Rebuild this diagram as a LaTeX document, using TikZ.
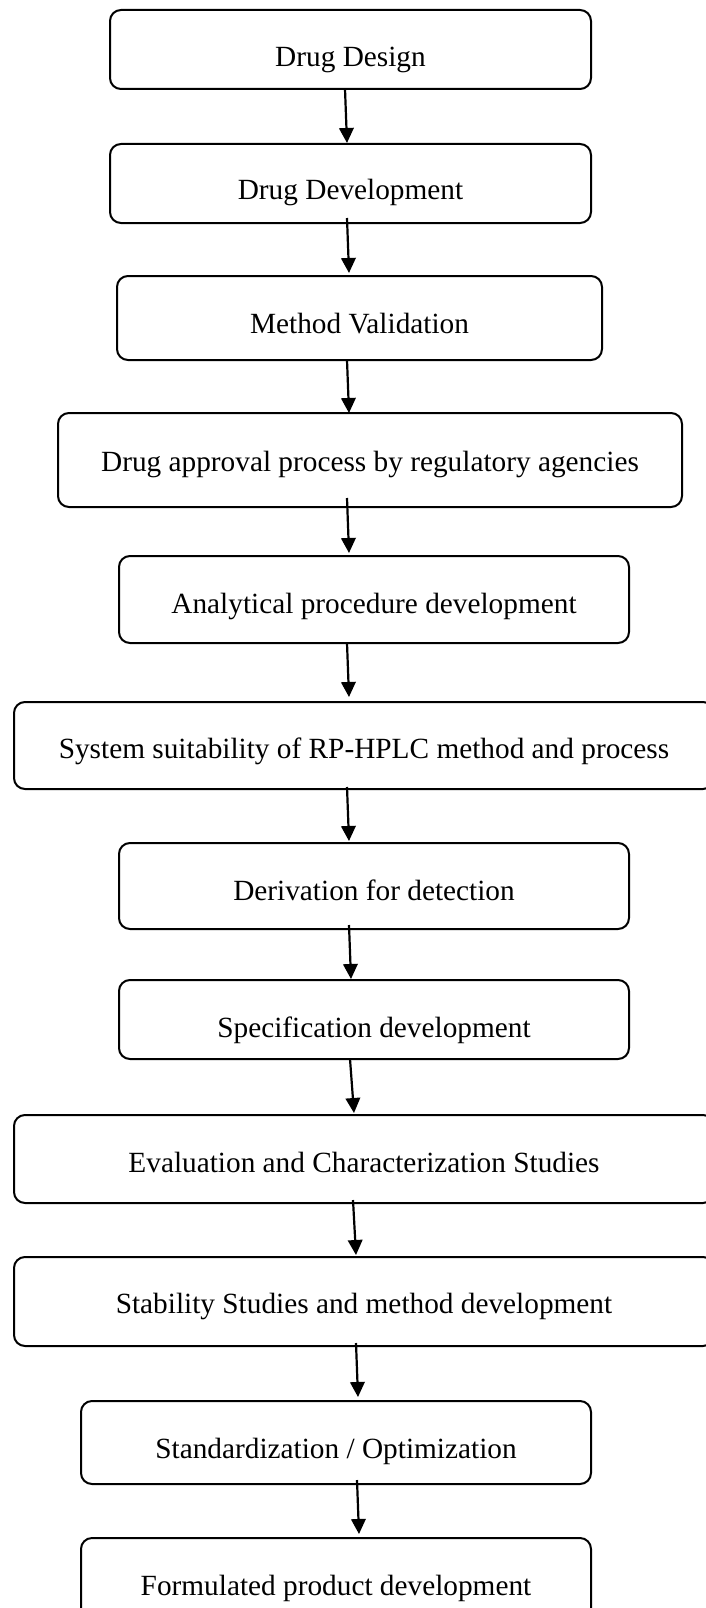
\documentclass[tikz,border=0pt]{standalone}
\usepackage{fontspec}
\setmainfont{Liberation Serif}
\usetikzlibrary{arrows.meta}
\tikzset{
  box/.style={draw=black, line width=2pt, rounded corners=11pt, fill=white, inner sep=0pt, outer sep=0pt},
  txt/.style={anchor=base, inner sep=0pt, font=\fontsize{29.3}{35}\selectfont},
  arr/.style={draw=black, line width=2.2pt, -{Triangle[length=15pt,width=14.5pt]}}
}
\begin{document}
\begin{tikzpicture}[x=1pt,y=-1pt]
\clip (0,0) rectangle (706,1608);
\fill[white] (0,0) rectangle (706,1608);
% boxes
\node[box, minimum width=481pt, minimum height=79pt] (b1) at (350.5,49.5) {};
\node[box, minimum width=481pt, minimum height=79pt] (b2) at (350.5,183.5) {};
\node[box, minimum width=485pt, minimum height=84pt] (b3) at (359.5,318) {};
\node[box, minimum width=624pt, minimum height=94pt] (b4) at (370,460) {};
\node[box, minimum width=510pt, minimum height=87pt] (b5) at (374,599.5) {};
\node[box, minimum width=700pt, minimum height=87pt] (b6) at (364,745.5) {};
\node[box, minimum width=510pt, minimum height=86pt] (b7) at (374,886) {};
\node[box, minimum width=510pt, minimum height=79pt] (b8) at (374,1019.5) {};
\node[box, minimum width=700pt, minimum height=88pt] (b9) at (364,1159) {};
\node[box, minimum width=700pt, minimum height=89pt] (b10) at (364,1301.5) {};
\node[box, minimum width=510pt, minimum height=83pt] (b11) at (336,1442.5) {};
\node[box, minimum width=510pt, minimum height=87pt] (b12) at (336,1581.5) {};
% texts
\node[txt] (t1) at (350.5,66.7) {Drug Design};
\node[txt] (t2) at (350.5,200) {Drug Development};
\node[txt] (t3) at (359.5,333) {Method Validation};
\node[txt] (t4) at (370,471) {Drug approval process by regulatory agencies};
\node[txt] (t5) at (374,613) {Analytical procedure development};
\node[txt] (t6) at (364,758) {System suitability of RP-HPLC method and process};
\node[txt] (t7) at (374,900) {Derivation for detection};
\node[txt] (t8) at (374,1037) {Specification development};
\node[txt] (t9) at (364,1172) {Evaluation and Characterization Studies};
\node[txt] (t10) at (364,1313) {Stability Studies and method development};
\node[txt] (t11) at (336,1458) {Standardization / Optimization};
\node[txt] (t12) at (336,1595) {Formulated product development};
% arrows
\draw[arr] ([xshift=-5.5pt]b1.south) -- ([xshift=-3.5pt,yshift=1pt]b2.north);
\draw[arr] ([xshift=-3.5pt,yshift=5pt]b2.south) -- ([xshift=-10.5pt,yshift=3pt]b3.north);
\draw[arr] ([xshift=-12.5pt]b3.south) -- ([xshift=-21pt]b4.north);
\draw[arr] ([xshift=-23pt,yshift=9pt]b4.south) -- ([xshift=-25pt,yshift=3pt]b5.north);
\draw[arr] ([xshift=-27pt]b5.south) -- ([xshift=-15pt,yshift=5pt]b6.north);
\draw[arr] ([xshift=-17pt,yshift=2pt]b6.south) -- ([xshift=-25pt,yshift=2pt]b7.north);
\draw[arr] ([xshift=-25pt,yshift=4pt]b7.south) -- ([xshift=-23pt,yshift=1pt]b8.north);
\draw[arr] ([xshift=-24pt]b8.south) -- ([xshift=-10pt,yshift=2pt]b9.north);
\draw[arr] ([xshift=-11pt,yshift=3pt]b9.south) -- ([xshift=-8pt,yshift=2pt]b10.north);
\draw[arr] ([xshift=-8pt,yshift=3pt]b10.south) -- ([xshift=22pt,yshift=4pt]b11.north);
\draw[arr] ([xshift=21pt,yshift=4pt]b11.south) -- ([xshift=23pt,yshift=4pt]b12.north);
\end{tikzpicture}
\end{document}
